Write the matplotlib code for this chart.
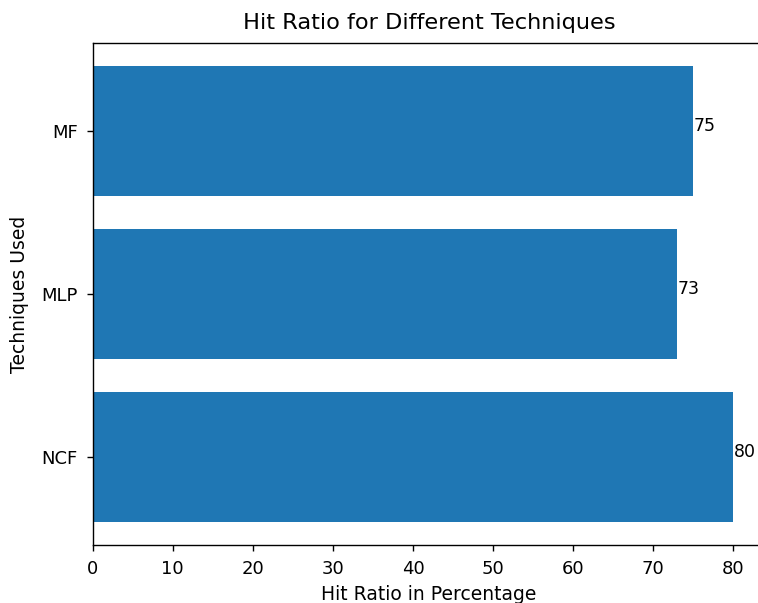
import matplotlib
matplotlib.use("Agg")
import matplotlib.pyplot as plt

# Hit ratio per technique
techniques = ["NCF", "MLP", "MF"]
hit_ratio = [80, 73, 75]

plt.rcParams["axes.linewidth"] = 1.0

fig = plt.figure(figsize=(7.58, 6.03), dpi=100)
# axes reaches a little past the right edge of the image, like the reference
ax = fig.add_axes([92.5 / 758, 58 / 603, 673 / 758, 502 / 603])

bars = ax.barh(techniques, hit_ratio, color="#1f77b4")
for bar, val in zip(bars, hit_ratio):
    # text baseline sits on the bar's centre line
    ax.text(bar.get_width(), bar.get_y() + bar.get_height() / 2, str(val),
            ha="left", fontsize=12.5)

ax.set_xlabel("Hit Ratio in Percentage", fontsize=13.5, labelpad=5)
ax.set_ylabel("Techniques Used", fontsize=13.5, labelpad=9)
ax.set_title("Hit Ratio for Different Techniques", fontsize=16.2, pad=10)
ax.tick_params(labelsize=13, length=4.5, width=1.0, pad=6)

fig.savefig("out.png", dpi=100)
